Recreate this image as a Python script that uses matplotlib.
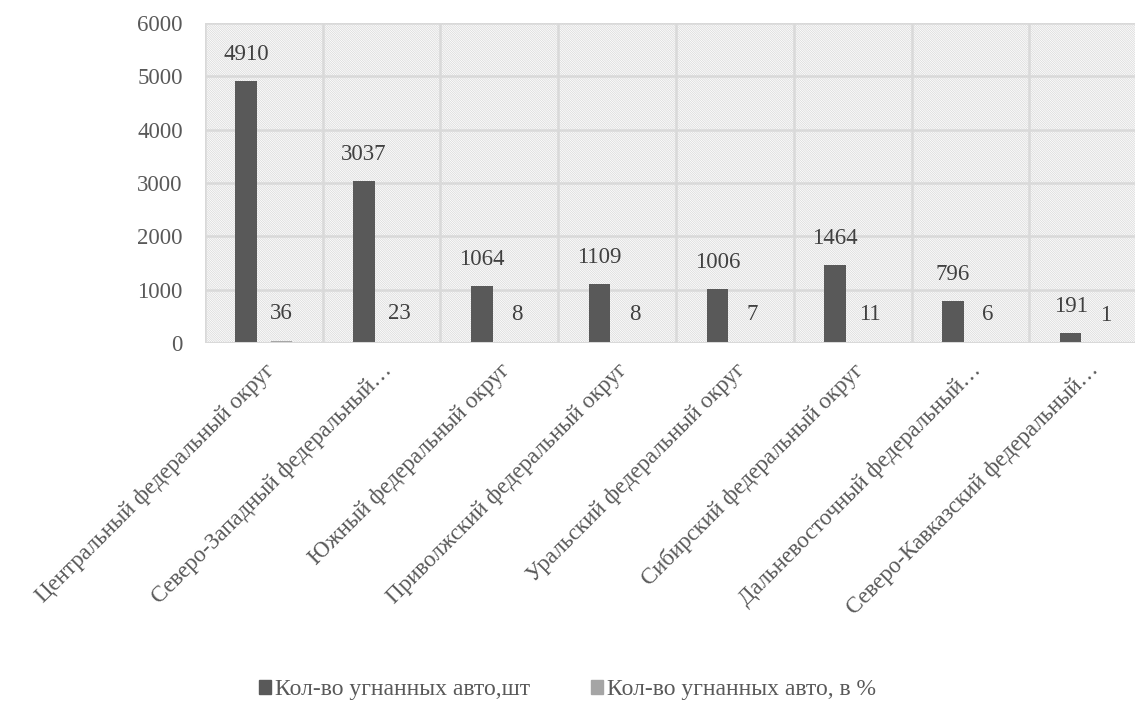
import numpy as np
import matplotlib
matplotlib.use("Agg")
import matplotlib.pyplot as plt
from matplotlib.patches import Patch

plt.rcParams['font.family'] = ['Liberation Serif', 'DejaVu Serif']
plt.rcParams['hatch.color'] = '#d6d6d6'
plt.rcParams['hatch.linewidth'] = 0.5

regions = ["Центральный федеральный округ",
           "Северо-Западный федеральный…",
           "Южный федеральный округ",
           "Приволжский федеральный округ",
           "Уральский федеральный округ",
           "Сибирский федеральный округ",
           "Дальневосточный федеральный…",
           "Северо-Кавказский федеральный…"]
stolen_count = [4910, 3037, 1064, 1109, 1006, 1464, 796, 191]
stolen_pct = [36, 23, 8, 8, 7, 11, 6, 1]
series_names = ["Кол-во угнанных авто,шт", "Кол-во угнанных авто, в %"]
yticks = [0, 1000, 2000, 3000, 4000, 5000, 6000]

dark = '#595959'
light = '#a5a5a5'
txt = '#404040'
fs = 16.5

fig = plt.figure(figsize=(11.35, 7.11), dpi=100)
# plot area runs a little past the right edge of the picture, as in the original
ax = fig.add_axes([0.1806, 0.5176, 0.830, 0.4501])

# hatched plot area background
ax.patch.set_facecolor('white')
ax.patch.set_edgecolor('#d6d6d6')
ax.patch.set_linewidth(0)
ax.patch.set_hatch('\\' * 15)

x = np.arange(len(regions))
w = 0.184
off = 0.149
b1 = ax.bar(x - off, stolen_count, w, color=dark, zorder=3)
b2 = ax.bar(x + off, stolen_pct, w, color=light, zorder=3)

for rect, v in zip(b1, stolen_count):
    ax.annotate(str(v), (rect.get_x() + rect.get_width() / 2, v),
                xytext=(0, 19), textcoords='offset points',
                ha='center', va='center', fontsize=fs, color=txt)
for rect, v in zip(b2, stolen_pct):
    ax.annotate(str(v), (rect.get_x() + rect.get_width() / 2, v),
                xytext=(0, 20), textcoords='offset points',
                ha='center', va='center', fontsize=fs, color=txt)

ax.set_xlim(-0.5, len(regions) - 0.5)
ax.set_ylim(0, 6000)
ax.set_yticks(yticks)
ax.set_yticklabels([str(t) for t in yticks], fontsize=fs, color=dark)

# grid: horizontal at ticks, vertical at category borders
for t in yticks:
    ax.axhline(t, color='#d9d9d9', lw=1.8, zorder=1)
for b in np.arange(-0.5, len(regions), 1.0):
    ax.axvline(b, color='#d9d9d9', lw=1.8, zorder=1)
# axis line sits over the tiny percent bars
ax.axhline(0, color='#d9d9d9', lw=2.2, zorder=4)

ax.set_xticks(x)
ax.set_xticklabels(regions, rotation=45, ha='right', rotation_mode='anchor',
                   fontsize=fs, color=dark)
ax.tick_params(axis='both', length=0)
ax.tick_params(axis='y', pad=16)
ax.tick_params(axis='x', pad=12)
for s in ax.spines.values():
    s.set_visible(False)

handles = [Patch(color=dark), Patch(color=light)]
fig.legend(handles, series_names, loc='center', bbox_to_anchor=(0.5, 0.03),
           ncol=2, frameon=False, fontsize=fs + 0.5, labelcolor=dark,
           handlelength=0.5, handleheight=0.5, handletextpad=0.15,
           columnspacing=2.6)

fig.savefig('out.png', dpi=100)
